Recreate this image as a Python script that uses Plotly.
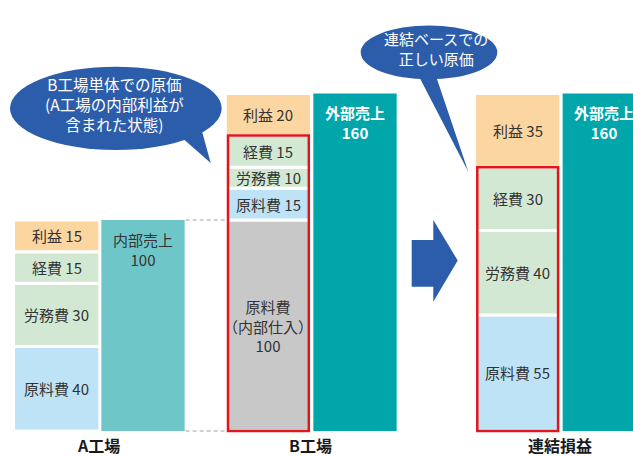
import plotly.graph_objects as go
import numpy as np

W, H = 633, 456

# ---------------- data ----------------
groups = ["A工場", "B工場", "連結損益"]

a_items = ["原料費", "労務費", "経費", "利益"]
a_values = [40, 30, 15, 15]

b_items = ["原料費\n（内部仕入）", "原料費", "労務費", "経費", "利益"]
b_values = [100, 15, 10, 15, 20]

c_items = ["原料費", "労務費", "経費", "利益"]
c_values = [55, 40, 30, 35]

revenue_names = ["内部売上", "外部売上", "外部売上"]
revenue_values = [100, 160, 160]

bubble_left_lines = ["B工場単体での原価", "(A工場の内部利益が", "含まれた状態)"]
bubble_right_lines = ["連結ベースでの", "正しい原価"]

# ---------------- layout constants ----------------
COST_X = [56.7, 268.4, 517.7]
REV_X = [143.0, 355.0, 604.3]
LABEL_X = [98, 310, 560]
FULL_W = 83.3
INNER_W = 79.0
GAP = 3
HAS_RED_BOX = [False, True, True]
K = 2.11          # px per unit
BASE_PX = 431     # pixel row of value 0
YMIN = -(H - BASE_PX) / K
YMAX = YMIN + H / K

SEG_COLORS = {
    "原料費": "#bee3f6",
    "労務費": "#d2e8d3",
    "経費": "#d2e8d3",
    "利益": "#fcd6a1",
    "原料費\n（内部仕入）": "#c8c8c8",
}
REV_COLORS = ["#6fc6c8", "#00a6a9", "#00a6a9"]
REV_TEXT = ["#333333", "#ffffff", "#ffffff"]
BLUE = "#2c5daa"
RED = "#e2141e"
FONT = "Noto Sans CJK JP"


def P(x, y):
    """pixel -> paper"""
    return x / W, 1 - y / H


fig = go.Figure()
annotations = []
shapes = []

all_items = [a_items, b_items, c_items]
all_values = [a_values, b_values, c_values]

for g, (items, vals) in enumerate(zip(all_items, all_values)):
    vals = np.array(vals, dtype=float)
    bases = np.cumsum(vals) - vals
    widths = [
        (FULL_W if (it == "利益" or not HAS_RED_BOX[g]) else INNER_W) + GAP
        for it in items
    ]
    fig.add_trace(go.Bar(
        x=[COST_X[g]] * len(items), y=vals, base=bases, width=widths,
        marker=dict(color=[SEG_COLORS[it] for it in items],
                    line=dict(color="white", width=GAP)),
        hoverinfo="skip", showlegend=False,
    ))
    for it, v, b in zip(items, vals, bases):
        if "\n" in it:
            txt = it.replace("\n", "<br>") + "<br>" + f"{int(v)}"
        else:
            txt = f"{it} {int(v)}"
        annotations.append(dict(
            x=COST_X[g], y=b + v / 2, xref="x", yref="y", text=txt,
            showarrow=False, font=dict(size=15, color="#333333"),
            xanchor="center", yanchor="middle",
        ))
    if HAS_RED_BOX[g]:
        cost_total = sum(v for it, v in zip(items, vals) if it != "利益")
        shapes.append(dict(
            type="rect", xref="x", yref="y",
            x0=COST_X[g] - FULL_W / 2 + 1.25, x1=COST_X[g] + FULL_W / 2 - 1.25,
            y0=0, y1=cost_total, line=dict(color=RED, width=2.5),
            fillcolor="rgba(0,0,0,0)", layer="above",
        ))

# revenue bars
fig.add_trace(go.Bar(
    x=REV_X, y=revenue_values, base=[0, 0, 0], width=[FULL_W] * 3,
    marker=dict(color=REV_COLORS, line=dict(width=0)),
    hoverinfo="skip", showlegend=False,
))
for g in range(3):
    annotations.append(dict(
        x=REV_X[g], y=revenue_values[g], xref="x", yref="y",
        text=f"{revenue_names[g]}<br>{revenue_values[g]}", showarrow=False,
        font=dict(size=15, color=REV_TEXT[g],
                  weight=("bold" if g > 0 else "normal")),
        xanchor="center", yanchor="top", yshift=-7,
    ))

# dashed connectors A revenue -> B internal purchase
for yv in [revenue_values[0], 0]:
    shapes.append(dict(
        type="line", xref="x", yref="y",
        x0=REV_X[0] + FULL_W / 2 + 1, x1=COST_X[1] - FULL_W / 2,
        y0=yv, y1=yv, line=dict(color="#a0a0a0", width=1, dash="4px,3px"),
        layer="below",
    ))

# group labels
for g in range(3):
    annotations.append(dict(
        x=LABEL_X[g], y=P(0, 445)[1], xref="x", yref="paper",
        text=groups[g], showarrow=False, borderpad=0,
        font=dict(size=16, color="#1a1a1a", weight="bold"),
        xanchor="center", yanchor="middle",
    ))


def path(points):
    s = ""
    for i, (x, y) in enumerate(points):
        px, py = P(x, y)
        s += ("M" if i == 0 else "L") + f"{px:.5f},{py:.5f} "
    return s + "Z"


# arrow
shapes.append(dict(
    type="path", xref="paper", yref="paper",
    path=path([(411.7, 240), (433.3, 240), (433.3, 220), (457.7, 260.5),
               (433.3, 301.7), (433.3, 286.7), (411.7, 286.7)]),
    fillcolor=BLUE, line=dict(width=0), layer="above",
))

# bubble 1
x0, y0 = P(10, 66.7)
x1, y1 = P(221.7, 150)
shapes.append(dict(type="circle", xref="paper", yref="paper",
                   x0=x0, x1=x1, y0=y1, y1=y0, fillcolor=BLUE,
                   line=dict(width=0), layer="above"))
shapes.append(dict(type="path", xref="paper", yref="paper",
                   path=path([(180, 136), (210.7, 163), (200, 124)]),
                   fillcolor=BLUE, line=dict(width=0), layer="above"))
bx, by = P(114, 103.5)
annotations.append(dict(x=bx, y=by, xref="paper", yref="paper",
                        text="<br>".join(bubble_left_lines), showarrow=False,
                        font=dict(size=15.5, color="white"), align="center",
                        xanchor="center", yanchor="middle"))

# bubble 2
x0, y0 = P(360.7, 25.5)
x1, y1 = P(497.3, 79.3)
shapes.append(dict(type="circle", xref="paper", yref="paper",
                   x0=x0, x1=x1, y0=y1, y1=y0, fillcolor=BLUE,
                   line=dict(width=0), layer="above"))
shapes.append(dict(type="path", xref="paper", yref="paper",
                   path=path([(416.7, 72), (468.3, 171.7), (434.6, 72)]),
                   fillcolor=BLUE, line=dict(width=0), layer="above"))
bx, by = P(436, 48)
annotations.append(dict(x=bx, y=by, xref="paper", yref="paper",
                        text="<br>".join(bubble_right_lines), showarrow=False,
                        font=dict(size=15, color="white"), align="center",
                        xanchor="center", yanchor="middle"))

fig.update_layout(
    width=W, height=H,
    margin=dict(l=0, r=0, t=0, b=0),
    paper_bgcolor="white", plot_bgcolor="white",
    barmode="overlay",
    font=dict(family=FONT),
    xaxis=dict(range=[0, W], visible=False, fixedrange=True),
    yaxis=dict(range=[YMIN, YMAX], visible=False, fixedrange=True),
    annotations=annotations,
    shapes=shapes,
    showlegend=False,
)

fig.write_html(
    "out.html",
    config={"displayModeBar": False},
    post_script="document.body.style.margin='0';document.body.style.overflow='hidden';",
)
